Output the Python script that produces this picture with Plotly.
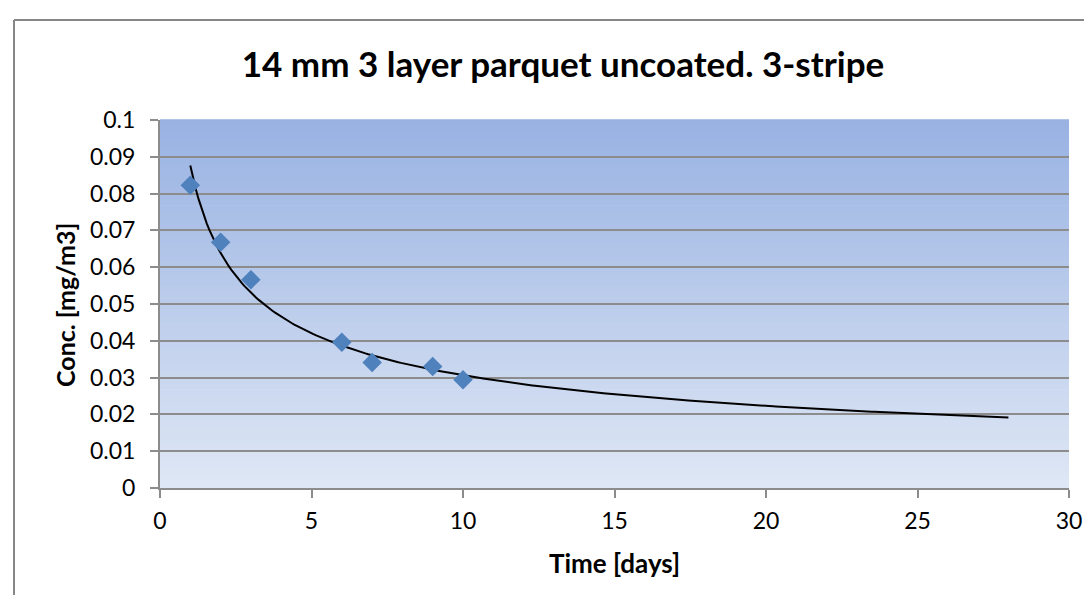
import numpy as np
import plotly.graph_objects as go

# ---- data ----
time_days = [1, 2, 3, 6, 7, 9, 10]
conc_mg_m3 = [0.0823, 0.0668, 0.0566, 0.0396, 0.0341, 0.0330, 0.0294]
trend_x_range = [1, 28]
x_ticks = [0, 5, 10, 15, 20, 25, 30]
y_ticks = [0, 0.01, 0.02, 0.03, 0.04, 0.05, 0.06, 0.07, 0.08, 0.09, 0.1]
y_tick_labels = ["0", "0.01", "0.02", "0.03", "0.04", "0.05", "0.06", "0.07", "0.08", "0.09", "0.1"]
title_text = "14 mm 3 layer parquet uncoated. 3-stripe"
x_title = "Time [days]"
y_title = "Conc. [mg/m3]"

# power trendline fitted to the data (as the spreadsheet trendline does)
b, ln_a = np.polyfit(np.log(time_days), np.log(conc_mg_m3), 1)
tx = np.linspace(trend_x_range[0], trend_x_range[1], 300)
ty = np.exp(ln_a) * tx ** b

W, H = 1092, 595
L, R, T, B = 152, 31, 112, 115
pw, ph = W - L - R, H - T - B

def px_x(p):
    return (p - L) / pw

def px_y(p):
    return (H - B - p) / ph

fig = go.Figure()
fig.add_trace(go.Scatter(x=tx, y=ty, mode="lines",
                         line=dict(color="black", width=2), hoverinfo="skip",
                         showlegend=False))
fig.add_trace(go.Scatter(x=time_days, y=conc_mg_m3, mode="markers",
                         marker=dict(symbol="diamond", size=15, color="#4F81BD",
                                     line=dict(width=0)),
                         showlegend=False))

# gradient plot background
shapes = []
n = 60
top = np.array([152, 178, 226])
bot = np.array([223, 231, 245])
for i in range(n):
    f = (i + 0.5) / n
    c = bot + (top - bot) * f
    shapes.append(dict(type="rect", xref="x domain", yref="y domain",
                       x0=0, x1=1, y0=i / n, y1=(i + 1) / n + 0.002,
                       fillcolor="rgb(%d,%d,%d)" % tuple(c.round().astype(int)),
                       line=dict(width=0), layer="below"))
# outer chart frame (left and top edges visible)
fc = "#878787"
shapes.append(dict(type="line", xref="paper", yref="paper",
                   x0=px_x(6), x1=px_x(6), y0=px_y(12), y1=px_y(600),
                   line=dict(color=fc, width=2)))
shapes.append(dict(type="line", xref="paper", yref="paper",
                   x0=px_x(6), x1=px_x(1100), y0=px_y(12), y1=px_y(12),
                   line=dict(color=fc, width=2)))

gc = "#8C8C8C"
fig.update_layout(
    width=W, height=H,
    margin=dict(l=L, r=R, t=T, b=B, pad=0),
    paper_bgcolor="white", plot_bgcolor="white",
    shapes=shapes,
    font=dict(family="Lato", size=23, color="black"),
    title=dict(text="<b>" + title_text + "</b>", xref="paper", yref="container",
               x=(555 - L) / pw, y=1 - 57 / H, xanchor="center", yanchor="middle",
               font=dict(family="Lato", size=35, color="black")),
    xaxis=dict(range=[0, 30], tickvals=x_ticks, showgrid=False, zeroline=False,
               showline=True, linecolor=gc, linewidth=2,
               ticks="outside", ticklen=8, tickwidth=2, tickcolor=gc,
               ticklabelstandoff=3,
               tickfont=dict(family="Lato", size=23)),
    yaxis=dict(range=[0, 0.1], tickvals=y_ticks, ticktext=y_tick_labels,
               showgrid=True, gridcolor=gc, gridwidth=2, zeroline=False,
               showline=True, linecolor=gc, linewidth=2,
               ticks="outside", ticklen=8, tickwidth=2, tickcolor=gc,
               ticklabelstandoff=10,
               tickfont=dict(family="Lato", size=23)),
    annotations=[
        dict(text="<b>" + x_title + "</b>", xref="paper", yref="paper",
             x=px_x(606), y=px_y(555), xanchor="center", yanchor="middle",
             showarrow=False, font=dict(family="Lato", size=26)),
        dict(text="<b>" + y_title + "</b>", xref="paper", yref="paper",
             x=px_x(57), y=px_y(297), xanchor="center", yanchor="middle",
             textangle=-90, showarrow=False, font=dict(family="Lato", size=25)),
    ],
)

fig.write_html("out.html")
